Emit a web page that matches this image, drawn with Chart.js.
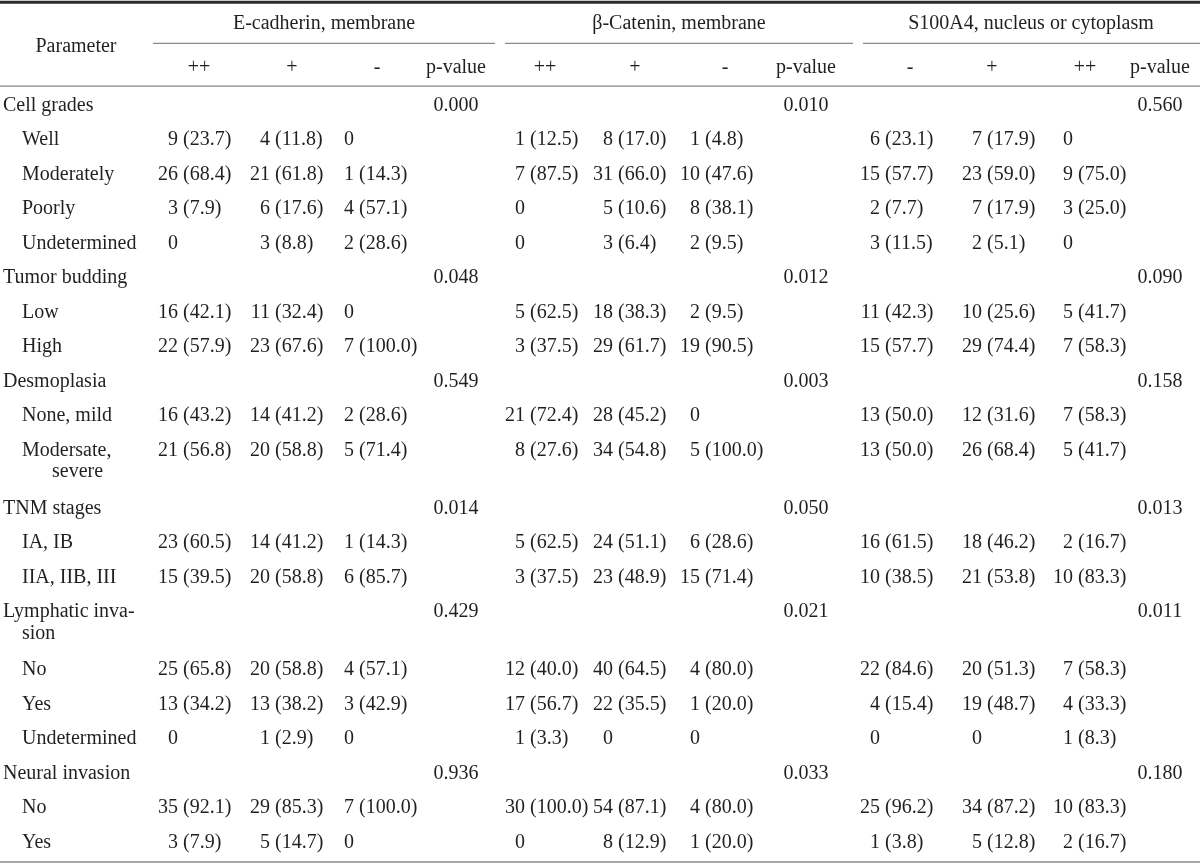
<!DOCTYPE html>
<html lang="en">
<head>
<meta charset="UTF-8">
<meta name="viewport" content="width=device-width, initial-scale=1.0">
<title>E-cadherin, β-Catenin and S100A4 expression</title>
<script src="https://cdn.jsdelivr.net/npm/chart.js"></script>
<style>
    body { margin: 0; background: #fff; }
    .chart-container { width: 1200px; height: 867px; position: relative; }
</style>
</head>
<body>
<div class="chart-container"><canvas id="table"></canvas></div>
<script>
// ---- table data ----
const rowLabels = ['Cell grades', 'Well', 'Moderately', 'Poorly', 'Undetermined',
    'Tumor budding', 'Low', 'High',
    'Desmoplasia', 'None, mild', 'Modersate,\nsevere',
    'TNM stages', 'IA, IB', 'IIA, IIB, III',
    'Lymphatic inva-\nsion', 'No', 'Yes', 'Undetermined',
    'Neural invasion', 'No', 'Yes'];
const rowLevels = [0, 1, 1, 1, 1, 0, 1, 1, 0, 1, 1, 0, 1, 1, 0, 1, 1, 1, 0, 1, 1];

const groupTitles = ['E-cadherin, membrane', 'β-Catenin, membrane', 'S100A4, nucleus or cytoplasm'];
const columnTitles = ['++', '+', '-', '++', '+', '-', '-', '+', '++'];

// E-cadherin
const ecadStrongN = [null, 9, 26, 3, 0, null, 16, 22, null, 16, 21, null, 23, 15, null, 25, 13, 0, null, 35, 3];
const ecadStrongP = [null, 23.7, 68.4, 7.9, null, null, 42.1, 57.9, null, 43.2, 56.8, null, 60.5, 39.5, null, 65.8, 34.2, null, null, 92.1, 7.9];
const ecadWeakN = [null, 4, 21, 6, 3, null, 11, 23, null, 14, 20, null, 14, 20, null, 20, 13, 1, null, 29, 5];
const ecadWeakP = [null, 11.8, 61.8, 17.6, 8.8, null, 32.4, 67.6, null, 41.2, 58.8, null, 41.2, 58.8, null, 58.8, 38.2, 2.9, null, 85.3, 14.7];
const ecadNegN = [null, 0, 1, 4, 2, null, 0, 7, null, 2, 5, null, 1, 6, null, 4, 3, 0, null, 7, 0];
const ecadNegP = [null, null, 14.3, 57.1, 28.6, null, null, 100.0, null, 28.6, 71.4, null, 14.3, 85.7, null, 57.1, 42.9, null, null, 100.0, null];
const ecadPval = [0.000, 0.048, 0.549, 0.014, 0.429, 0.936];

// beta-Catenin
const bcatStrongN = [null, 1, 7, 0, 0, null, 5, 3, null, 21, 8, null, 5, 3, null, 12, 17, 1, null, 30, 0];
const bcatStrongP = [null, 12.5, 87.5, null, null, null, 62.5, 37.5, null, 72.4, 27.6, null, 62.5, 37.5, null, 40.0, 56.7, 3.3, null, 100.0, null];
const bcatWeakN = [null, 8, 31, 5, 3, null, 18, 29, null, 28, 34, null, 24, 23, null, 40, 22, 0, null, 54, 8];
const bcatWeakP = [null, 17.0, 66.0, 10.6, 6.4, null, 38.3, 61.7, null, 45.2, 54.8, null, 51.1, 48.9, null, 64.5, 35.5, null, null, 87.1, 12.9];
const bcatNegN = [null, 1, 10, 8, 2, null, 2, 19, null, 0, 5, null, 6, 15, null, 4, 1, 0, null, 4, 1];
const bcatNegP = [null, 4.8, 47.6, 38.1, 9.5, null, 9.5, 90.5, null, null, 100.0, null, 28.6, 71.4, null, 80.0, 20.0, null, null, 80.0, 20.0];
const bcatPval = [0.010, 0.012, 0.003, 0.050, 0.021, 0.033];

// S100A4
const s100NegN = [null, 6, 15, 2, 3, null, 11, 15, null, 13, 13, null, 16, 10, null, 22, 4, 0, null, 25, 1];
const s100NegP = [null, 23.1, 57.7, 7.7, 11.5, null, 42.3, 57.7, null, 50.0, 50.0, null, 61.5, 38.5, null, 84.6, 15.4, null, null, 96.2, 3.8];
const s100WeakN = [null, 7, 23, 7, 2, null, 10, 29, null, 12, 26, null, 18, 21, null, 20, 19, 0, null, 34, 5];
const s100WeakP = [null, 17.9, 59.0, 17.9, 5.1, null, 25.6, 74.4, null, 31.6, 68.4, null, 46.2, 53.8, null, 51.3, 48.7, null, null, 87.2, 12.8];
const s100StrongN = [null, 0, 9, 3, 0, null, 5, 7, null, 7, 5, null, 2, 10, null, 7, 4, 1, null, 10, 2];
const s100StrongP = [null, null, 75.0, 25.0, null, null, 41.7, 58.3, null, 58.3, 41.7, null, 16.7, 83.3, null, 58.3, 33.3, 8.3, null, 83.3, 16.7];
const s100Pval = [0.560, 0.090, 0.158, 0.013, 0.011, 0.180];

// ---- layout ----
const FONT = '20px "Liberation Serif", "Times New Roman", serif';
const TEXT_COLOR = '#231f20';
const TEXT_SHIFT = 1.5;    // px, canvas 'middle' sits a bit high for this face
const countAnchors = [178, 270, 354, 525, 613, 700, 880, 982, 1073];   // right edge of the counts
const columnCenters = [199, 292, 377, 545, 635, 725, 910, 992, 1085];
const pvalCenters = [456, 806, 1160];
const groupCenters = [324, 679, 1031];
const groupSpans = [[153, 495], [505, 853], [863, 1200]];
const WRAP_EXTRA = 0.68;   // extra row units taken by a wrapped label
const LINE2 = 0.62;        // second line of a wrapped label
const ROW_PX = 34.5, FIRST_ROW_PX = 104;

// y position of every body row, in row units
const rowY = [];
let acc = 0;
rowLabels.forEach(l => {
    rowY.push(acc);
    acc += 1 + (l.includes('\n') ? WRAP_EXTRA : 0);
});
const headerRows = rowLevels.map((l, i) => l === 0 ? i : -1).filter(i => i >= 0);

const countCols = [
    [ecadStrongN, ecadStrongP], [ecadWeakN, ecadWeakP], [ecadNegN, ecadNegP],
    [bcatStrongN, bcatStrongP], [bcatWeakN, bcatWeakP], [bcatNegN, bcatNegP],
    [s100NegN, s100NegP], [s100WeakN, s100WeakP], [s100StrongN, s100StrongP]
];
const pvalCols = [ecadPval, bcatPval, s100Pval];

const datasets = [];
const Y_GROUP = -2.36, Y_COL = -1.10, Y_PARAM = -1.71;
const Y_TOP = -2.95, Y_UNDER = -1.76, Y_HEAD = -0.52, Y_BOTTOM = 21.97;

function rule(x0, x1, y, width, color) {
    datasets.push({
        type: 'line', data: [{ x: x0, y: y }, { x: x1, y: y }],
        borderColor: color, borderWidth: width, pointRadius: 0, clip: false
    });
}
rule(0, 1200, Y_TOP, 3, '#2b2b2b');
groupSpans.forEach(s => rule(s[0], s[1], Y_UNDER, 1.2, '#8a8a8a'));
rule(0, 1200, Y_HEAD, 1.2, '#8a8a8a');
rule(0, 1200, Y_BOTTOM, 1.5, '#8a8a8a');

// row labels
datasets.push({
    data: rowLabels.map((l, i) => ({ x: rowLevels[i] ? 22 : 3, y: rowY[i] })),
    cells: rowLabels.map((l, i) => ({ kind: 'label', text: l, level: rowLevels[i] })),
    pointRadius: 0
});
// count columns
countCols.forEach((col, c) => {
    datasets.push({
        data: rowY.map(y => ({ x: countAnchors[c], y: y })),
        cells: col[0].map((n, i) => n === null ? null : { kind: 'count', n: n, p: col[1][i] }),
        pointRadius: 0
    });
});
// p-values
pvalCols.forEach((col, g) => {
    datasets.push({
        data: headerRows.map(i => ({ x: pvalCenters[g], y: rowY[i] })),
        cells: col.map(p => ({ kind: 'center', text: p.toFixed(3) })),
        pointRadius: 0
    });
});
// headers
datasets.push({
    data: [{ x: 76, y: Y_PARAM }].concat(
        groupCenters.map(x => ({ x: x, y: Y_GROUP })),
        columnCenters.map(x => ({ x: x, y: Y_COL })),
        pvalCenters.map(x => ({ x: x, y: Y_COL }))),
    cells: [{ kind: 'center', text: 'Parameter' }].concat(
        groupTitles.map(t => ({ kind: 'center', text: t })),
        columnTitles.map(t => ({ kind: 'center', text: t })),
        pvalCenters.map(() => ({ kind: 'center', text: 'p-value' }))),
    pointRadius: 0
});

const tableText = {
    id: 'tableText',
    afterDatasetsDraw(chart) {
        const ctx = chart.ctx;
        const ys = chart.scales.y;
        ctx.save();
        ctx.font = FONT;
        ctx.fillStyle = TEXT_COLOR;
        ctx.textBaseline = 'middle';
        chart.data.datasets.forEach((ds, di) => {
            if (!ds.cells) return;
            const meta = chart.getDatasetMeta(di);
            meta.data.forEach((pt, j) => {
                const c = ds.cells[j];
                if (!c) return;
                const y = pt.y + TEXT_SHIFT;
                if (c.kind === 'label') {
                    const lines = c.text.split('\n');
                    ctx.textAlign = 'left';
                    ctx.fillText(lines[0], pt.x, y);
                    if (lines[1]) {
                        const y2 = ys.getPixelForValue(rowY[j] + LINE2) + TEXT_SHIFT;
                        ctx.fillText(lines[1], c.level ? 52 : 22, y2);
                    }
                } else if (c.kind === 'count') {
                    ctx.textAlign = 'right';
                    ctx.fillText(String(c.n), pt.x, y);
                    if (c.n > 0 && c.p !== null) {
                        ctx.textAlign = 'left';
                        ctx.fillText(' (' + c.p.toFixed(1) + ')', pt.x, y);
                    }
                } else {
                    ctx.textAlign = 'center';
                    ctx.fillText(c.text, pt.x, y);
                }
            });
        });
        ctx.restore();
    }
};

new Chart(document.getElementById('table'), {
    type: 'scatter',
    data: { datasets: datasets },
    options: {
        responsive: true,
        maintainAspectRatio: false,
        animation: false,
        layout: { padding: 0 },
        plugins: { legend: { display: false }, tooltip: { enabled: false } },
        scales: {
            x: { type: 'linear', min: 0, max: 1200, display: false },
            y: {
                type: 'linear', reverse: true, display: false,
                min: -FIRST_ROW_PX / ROW_PX,
                max: (867 - FIRST_ROW_PX) / ROW_PX
            }
        }
    },
    plugins: [tableText]
});
</script>
</body>
</html>
